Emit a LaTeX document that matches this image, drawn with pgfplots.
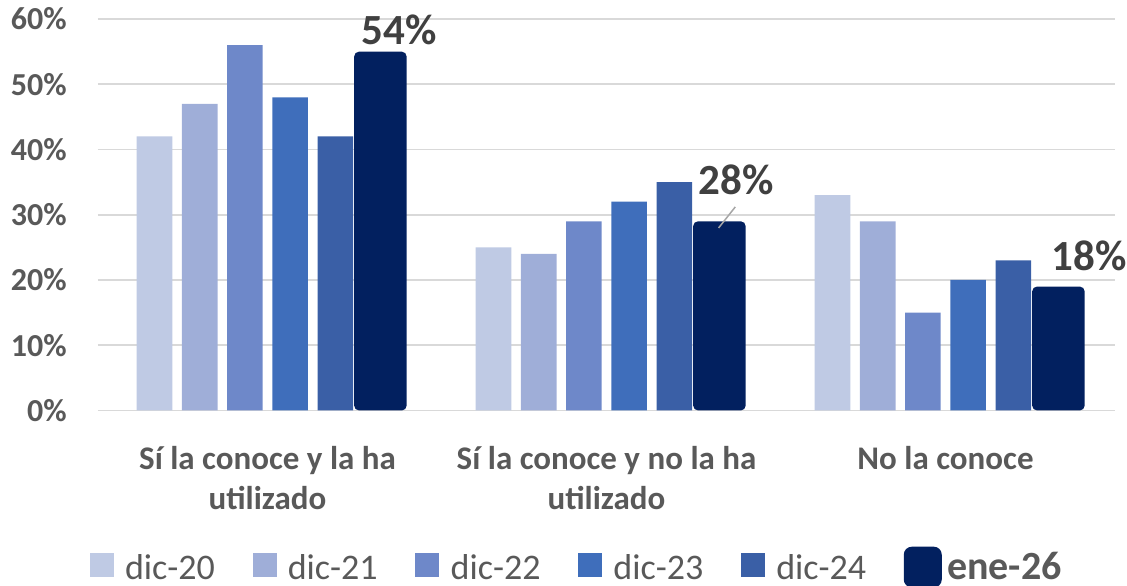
\documentclass[border=0pt]{standalone}
\usepackage{pgfplots}
\pgfplotsset{compat=1.18}
\usepackage{fontspec}
\setmainfont{Carlito}
\definecolor{c1}{HTML}{BFCAE4}
\definecolor{c2}{HTML}{9FAED8}
\definecolor{c3}{HTML}{6E88C9}
\definecolor{c4}{HTML}{3F6EBB}
\definecolor{c5}{HTML}{3A5FA6}
\definecolor{c6}{HTML}{02205F}
\definecolor{gridc}{HTML}{D9D9D9}
\definecolor{txt}{HTML}{595959}
\definecolor{lbl}{HTML}{404040}
\begin{document}
\begin{tikzpicture}
\begin{axis}[name=ax, scale only axis, width=508.5pt, height=195.75pt,
  xmin=-0.5, xmax=2.5, ymin=0, ymax=60, clip=false,
  axis line style={draw=none}, major tick length=0pt,
  ymajorgrids, grid style={gridc, line width=0.8pt},
  ytick={0,10,20,30,40,50,60},
  yticklabels={0\%,10\%,20\%,30\%,40\%,50\%,60\%},
  yticklabel style={font=\bfseries\fontsize{16}{16}\selectfont, text=txt, inner sep=0pt, xshift=-15.5pt},
  xtick={0,1,2},
  xticklabels={{Sí la conoce y la ha\\utilizado},{Sí la conoce y no la ha\\utilizado},{No la conoce}},
  xticklabel style={font=\bfseries\fontsize{16.5}{20}\selectfont, text=txt, align=center, inner sep=0pt, yshift=-17.5pt},
  legend columns=6, legend cell align=left,
  legend style={draw=none, fill=none, inner sep=0pt, at={(-0.00855,-0.4)}, anchor=west,
    nodes={inner sep=0pt, anchor=base, text=txt, font=\fontsize{18}{18}\selectfont},
    /tikz/every odd column/.append style={column sep=5.65pt},
    /tikz/every even column/.append style={column sep=18.8pt}},
]
\addplot[ybar, bar width=17.8pt, bar shift=-56.5pt, fill=c1, draw=none,
  legend image code/.code={\fill[c1] (0pt,1pt) rectangle (12pt,13pt);}]
  coordinates {(0,42) (1,25) (2,33)};
\addlegendentry{dic-20}
\addplot[ybar, bar width=17.8pt, bar shift=-33.9pt, fill=c2, draw=none,
  legend image code/.code={\fill[c2] (0pt,1pt) rectangle (12pt,13pt);}]
  coordinates {(0,47) (1,24) (2,29)};
\addlegendentry{dic-21}
\addplot[ybar, bar width=17.8pt, bar shift=-11.3pt, fill=c3, draw=none,
  legend image code/.code={\fill[c3] (0pt,1pt) rectangle (12pt,13pt);}]
  coordinates {(0,56) (1,29) (2,15)};
\addlegendentry{dic-22}
\addplot[ybar, bar width=17.8pt, bar shift=11.3pt, fill=c4, draw=none,
  legend image code/.code={\fill[c4] (0pt,1pt) rectangle (12pt,13pt);}]
  coordinates {(0,48) (1,32) (2,20)};
\addlegendentry{dic-23}
\addplot[ybar, bar width=17.8pt, bar shift=33.9pt, fill=c5, draw=none,
  legend image code/.code={\fill[c5] (0pt,1pt) rectangle (12pt,13pt);}]
  coordinates {(0,42) (1,35) (2,23)};
\addlegendentry{dic-24}
\addplot[ybar, bar width=26.3pt, bar shift=56.45pt, fill=c6, draw=none, rounded corners=2.5pt,
  legend image code/.code={\fill[c6, rounded corners=4pt] (0pt,-4pt) rectangle (19pt,16.4pt);}]
  coordinates {(0,55) (1,29) (2,19)};
\addlegendentry{\hspace*{-3pt}\bfseries\fontsize{20}{20}\selectfont ene-26}
\draw[color=gray!70, line width=0.75pt] (axis cs:1.3799,31.2) -- (axis cs:1.3307,27.98);
\node[font=\bfseries\fontsize{21.5}{21.5}\selectfont, text=lbl, inner sep=0pt] at (axis cs:0.3885,58.36) {54\%};
\node[font=\bfseries\fontsize{21.5}{21.5}\selectfont, text=lbl, inner sep=0pt] at (axis cs:1.3829,35.33) {28\%};
\node[font=\bfseries\fontsize{21.5}{21.5}\selectfont, text=lbl, inner sep=0pt] at (axis cs:2.4233,23.63) {18\%};
\end{axis}
\pgfresetboundingbox
\path[use as bounding box] ([shift={(-49pt,-87.75pt)}]ax.south west) rectangle ([shift={(6pt,9.5pt)}]ax.north east);
\end{tikzpicture}
\end{document}
